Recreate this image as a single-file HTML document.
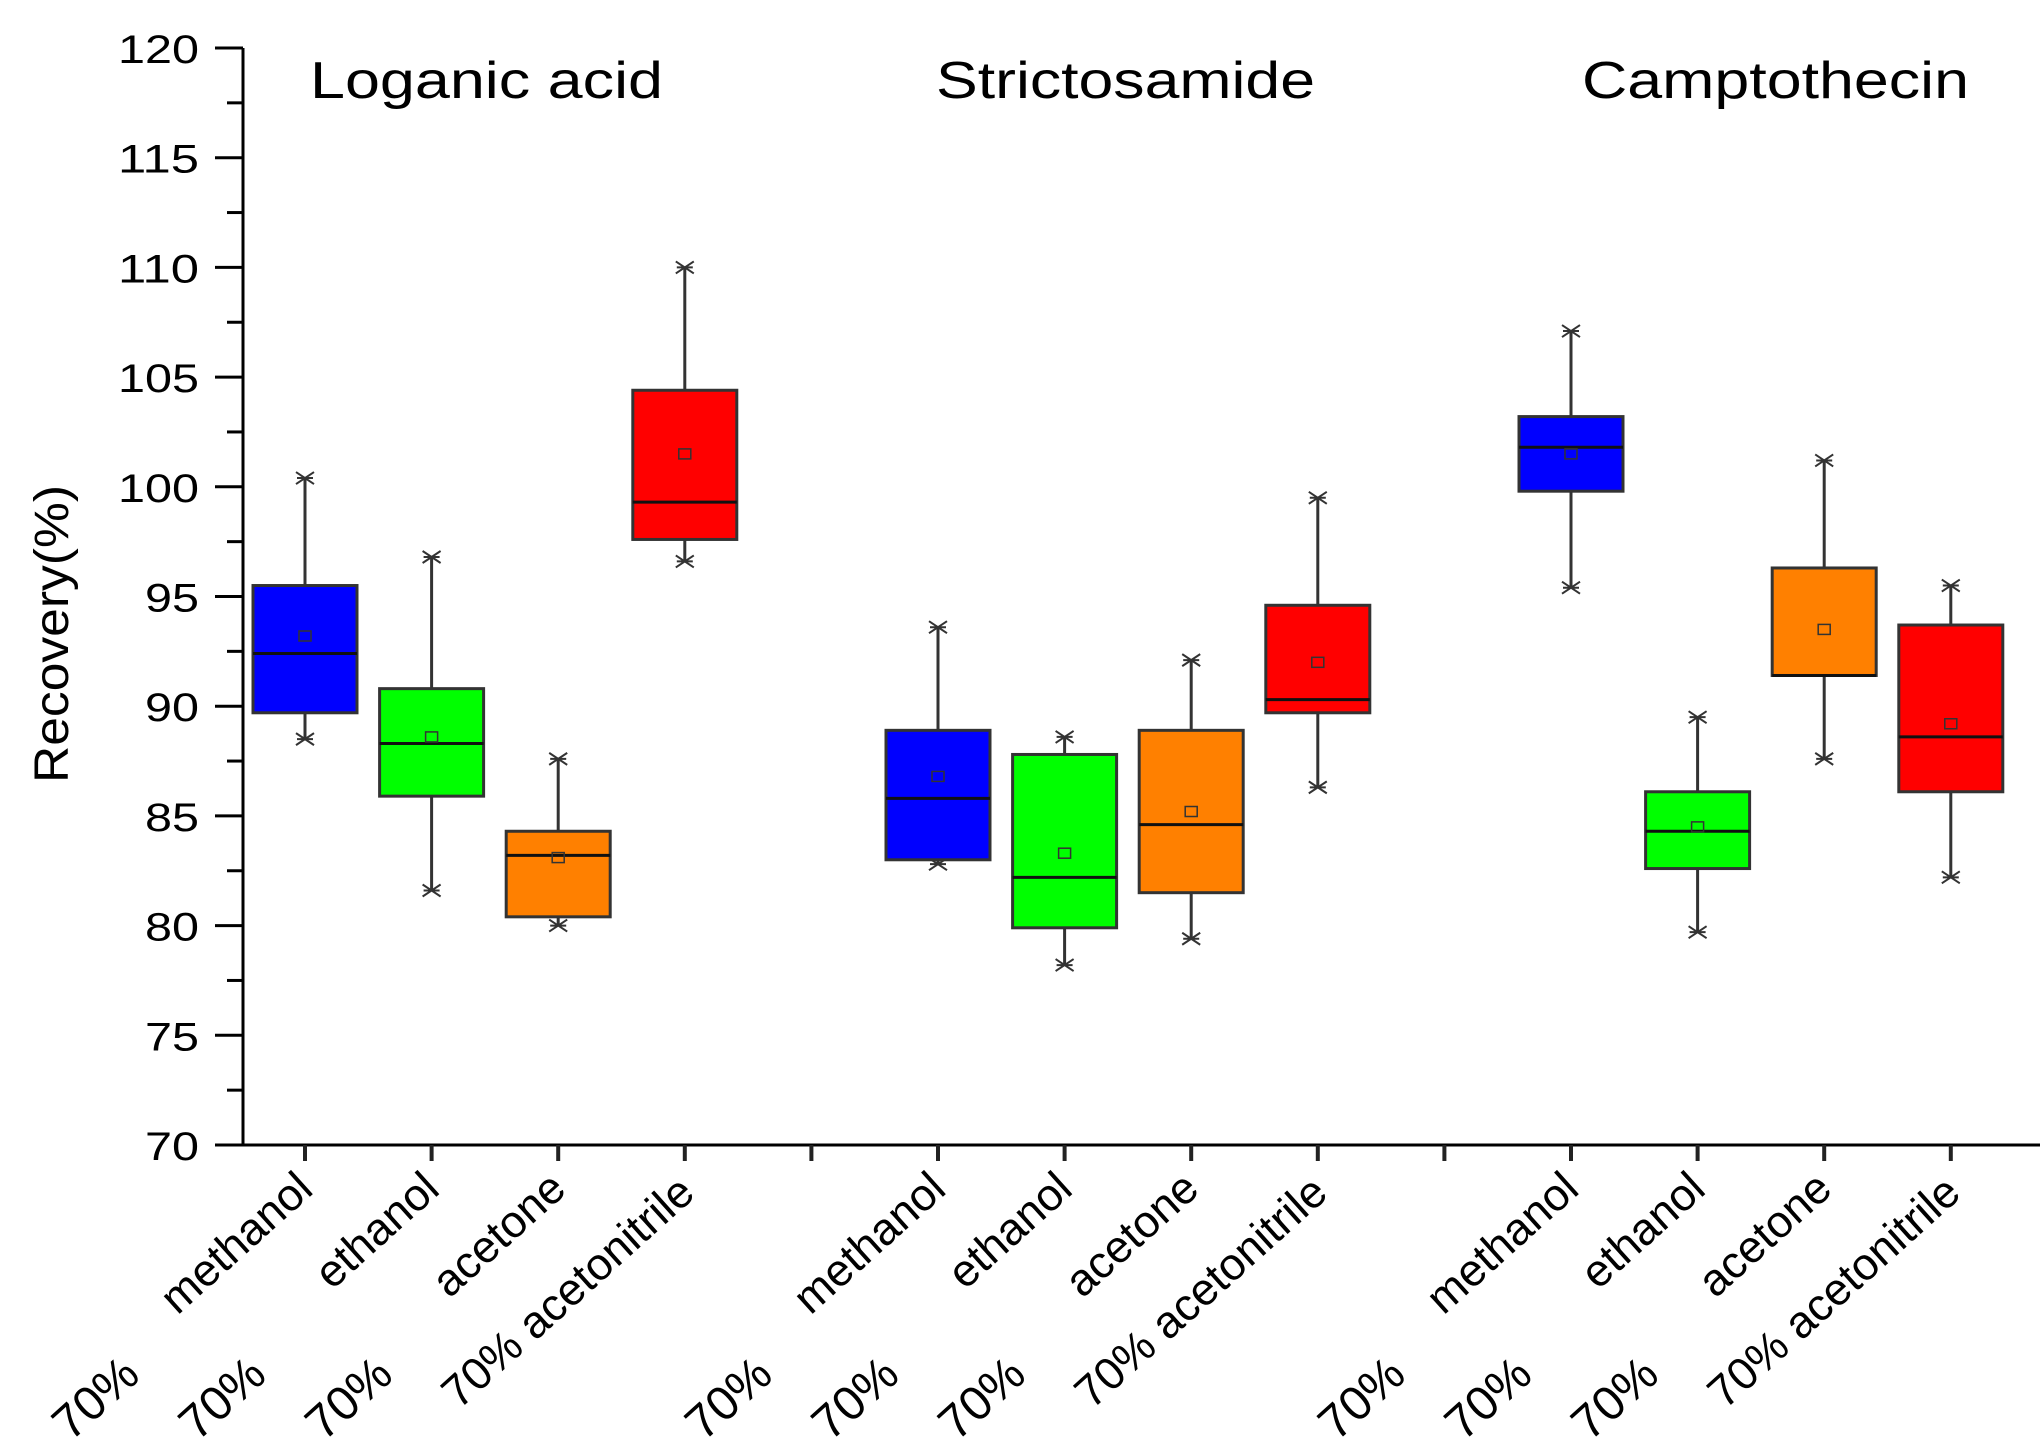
<!DOCTYPE html>
<html><head><meta charset="utf-8"><style>
html,body{margin:0;padding:0;background:#fff;}
svg{display:block;font-family:"Liberation Sans",sans-serif;}
</style></head><body>
<svg id="chart" width="2041" height="1452" viewBox="0 0 2041 1452" xmlns="http://www.w3.org/2000/svg"></svg>
<script>
const groups = ["Loganic acid","Strictosamide","Camptothecin"];
const solvents = ["methanol","ethanol","acetone","acetonitrile"];
const colors = ["#0000ff","#00ff00","#ff8000","#ff0000"];
const q3Vals  = [95.5,90.8,84.3,104.4, 88.9,87.8,88.9,94.6, 103.2,86.1,96.3,93.7];
const q1Vals  = [89.7,85.9,80.4,97.6, 83.0,79.9,81.5,89.7, 99.8,82.6,91.4,86.1];
const medVals = [92.4,88.3,83.2,99.3, 85.8,82.2,84.6,90.3, 101.8,84.3,91.4,88.6];
const meanVals= [93.2,88.6,83.1,101.5, 86.8,83.3,85.2,92.0, 101.5,84.5,93.5,89.2];
const hiVals  = [100.4,96.8,87.6,110.0, 93.6,88.6,92.1,99.5, 107.1,89.5,101.2,95.5];
const loVals  = [88.5,81.6,80.0,96.6, 82.8,78.2,79.4,86.3, 95.4,79.7,87.6,82.2];
const yTicks = [70,75,80,85,90,95,100,105,110,115,120];

const svg = document.getElementById('chart');
const NS = "http://www.w3.org/2000/svg";
const X0 = 243, XEND = 2040, YTOP = 48, YBOT = 1145, YMIN = 70, YMAX = 120;
const SLOT0 = 305, SLOTW = 126.6, BOXW = 104;
function yS(v){ return YBOT - (v - YMIN) / (YMAX - YMIN) * (YBOT - YTOP); }
function slotX(i){ return SLOT0 + i * SLOTW; }
function catIndex(k){ return k + Math.floor(k / 4); }
function mk(tag, attrs, parent){
  const e = document.createElementNS(NS, tag);
  for (const k in attrs) e.setAttribute(k, attrs[k]);
  (parent || svg).appendChild(e);
  return e;
}

const ax = mk('g', {});


const yl = mk('line', {x1:X0,y1:YTOP,x2:X0,y2:YBOT,stroke:'#000','stroke-width':3}, ax);


const xl = mk('line', {x1:X0-28,y1:YBOT,x2:XEND,y2:YBOT,stroke:'#000','stroke-width':3}, ax);


for (let v = YMIN; v < YMAX; v += 2.5) {
  const t = mk('line', {x1:X0-(v%5===0?28:16),y1:yS(v),x2:X0,y2:yS(v),stroke:'#000','stroke-width':3}, ax);
  
  
}
const tTop = mk('line', {x1:X0-28,y1:yS(YMAX),x2:X0,y2:yS(YMAX),stroke:'#000','stroke-width':3}, ax);


yTicks.forEach(v => {
  const s = String(v);
  const t = mk('text', {x:199,y:yS(v)+15,'text-anchor':'end','font-size':40,textLength:s.length*27,lengthAdjust:'spacingAndGlyphs',fill:'#000'}, ax);
  t.textContent = s;
  
  
});
for (let i = 0; i < 14; i++) {
  const t = mk('line', {x1:slotX(i),y1:YBOT,x2:slotX(i),y2:YBOT+16,stroke:'#222','stroke-width':4}, ax);
  
  
}
const ylab = mk('text', {x:0,y:0,'text-anchor':'middle','font-size':48,textLength:298,lengthAdjust:'spacingAndGlyphs',fill:'#000',transform:'translate(68,634) rotate(-90)'}, ax);
ylab.textContent = 'Recovery(%)';



const titleX = [[310,353],[936,379],[1582,387]];
groups.forEach((g, gi) => {
  const t = mk('text', {x:titleX[gi][0],y:98,'font-size':52,textLength:titleX[gi][1],lengthAdjust:'spacingAndGlyphs',fill:'#000'});
  t.textContent = g;
  
  
});

for (let k = 0; k < 12; k++) {
  const x = slotX(catIndex(k));
  const s = k % 4;
  if (s === 3) {
    const t = mk('text', {x:0,y:0,'text-anchor':'end','font-size':45,fill:'#000',transform:`translate(${x+12},${1196}) rotate(-42)`});
    t.textContent = '70% acetonitrile';
    
    
  } else {
    const t = mk('text', {x:0,y:0,'text-anchor':'end','font-size':45,fill:'#000',transform:`translate(${x+10},${1192}) rotate(-42)`});
    t.textContent = solvents[s];
    
    
    const p = mk('text', {x:0,y:0,'text-anchor':'end','font-size':48,fill:'#000',transform:`translate(${x-163},${1378}) rotate(-42)`});
    p.textContent = '70%';
    
    
  }
}

for (let k = 0; k < 12; k++) {
  const cx = slotX(catIndex(k));
  const g = mk('g', {});
  
  
  const wl = mk('line', {x1:cx,y1:yS(hiVals[k]),x2:cx,y2:yS(loVals[k]),stroke:'#333','stroke-width':3}, g);
  
  
  [hiVals[k], loVals[k]].forEach(v => {
    const y = yS(v);
    const c1 = mk('path', {d:`M${cx-9},${y-6}L${cx+9},${y+6}M${cx-9},${y+6}L${cx+9},${y-6}M${cx-8},${y}L${cx+8},${y}`,stroke:'#333','stroke-width':2,fill:'none'}, g);
    
    
  });
  const r = mk('rect', {x:cx-BOXW/2,y:yS(q3Vals[k]),width:BOXW,height:yS(q1Vals[k])-yS(q3Vals[k]),fill:colors[k%4],stroke:'#333','stroke-width':3}, g);
  
  
  const m = mk('line', {x1:cx-BOXW/2,y1:yS(medVals[k]),x2:cx+BOXW/2,y2:yS(medVals[k]),stroke:'#111','stroke-width':3}, g);
  
  
  const mn = mk('rect', {x:cx-6,y:yS(meanVals[k])-5,width:12,height:10,fill:'none',stroke:'#333','stroke-width':1.5}, g);
  
  
}
</script>
</body></html>
